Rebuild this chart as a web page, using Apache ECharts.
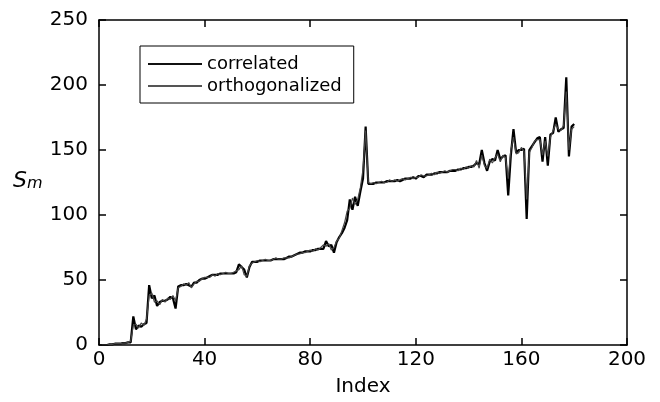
<!DOCTYPE html>
<html lang="en">
<head>
    <meta charset="UTF-8">
    <title>S_m vs Index</title>
    <script src="https://cdn.jsdelivr.net/npm/echarts@6/dist/echarts.min.js"></script>
    <style>
        html, body { margin: 0; padding: 0; background: #fff; }
    </style>
</head>
<body>
    <div id="chart" style="width: 660px; height: 402px;"></div>
    <script>
        // values, index 1..180
        var correlated = [
            0, 0, 0, 0.5, 0.5, 1, 1, 1, 1.5, 1.5,
            2, 2, 22, 12, 15, 14, 16, 17, 46, 36,
            38, 30, 33, 34, 34, 35, 37, 36, 28, 45,
            46, 46, 47, 46, 45, 48, 48, 50, 51, 51,
            52, 53, 54, 54, 54, 55, 55, 55, 55, 55,
            55, 56, 62, 60, 58, 52, 60, 64, 64, 64,
            65, 65, 65, 65, 65, 66, 66, 66, 66, 66,
            67, 68, 68, 69, 70, 71, 71, 72, 72, 72,
            73, 73, 74, 74, 74, 80, 76, 77, 71, 79,
            83, 86, 90, 96, 112, 104, 114, 107, 118, 128,
            168, 124, 124, 124, 125, 125, 125, 125, 126, 126,
            126, 126, 127, 126, 127, 128, 128, 128, 129, 128,
            130, 130, 129, 131, 131, 131, 132, 132, 133, 133,
            133, 133, 134, 134, 134, 135, 135, 136, 136, 137,
            137, 138, 140, 139, 150, 140, 134, 141, 143, 142,
            150, 143, 145, 146, 115, 146, 166, 148, 150, 150,
            151, 97, 150, 153, 156, 159, 160, 141, 160, 138,
            162, 163, 175, 164, 166, 167, 206, 145, 168, 170
        ];
        var orthogonalized = [
            0, 0, 0, 0.5, 0.5, 1, 1, 1, 1.5, 1.5,
            2, 3, 15, 16, 13, 17, 15, 20, 38, 40,
            33, 34, 31, 35, 33, 36, 35, 38, 34, 44,
            45, 47, 46, 48, 44, 47, 49, 49, 51, 52,
            52, 52, 54, 53, 55, 54, 55, 56, 55, 55,
            56, 57, 58, 61, 54, 53, 61, 63, 64, 65,
            64, 65, 66, 65, 65, 66, 67, 66, 66, 67,
            67, 67, 68, 69, 70, 70, 71, 71, 72, 73,
            72, 74, 73, 75, 77, 76, 78, 73, 75, 80,
            82, 88, 94, 103, 105, 113, 108, 112, 121, 135,
            165, 125, 124, 125, 124, 125, 126, 125, 125, 127,
            126, 127, 126, 127, 128, 127, 128, 129, 128, 129,
            129, 131, 130, 130, 131, 132, 131, 133, 132, 133,
            134, 133, 134, 135, 135, 134, 136, 135, 137, 136,
            138, 137, 142, 136, 146, 138, 136, 143, 140, 144,
            147, 141, 146, 144, 128, 150, 160, 147, 148, 152,
            149, 112, 148, 152, 157, 158, 158, 146, 157, 145,
            160, 165, 170, 166, 165, 169, 195, 150, 166, 168
        ];
        var xTicks = [0, 40, 80, 120, 160, 200];
        var yTicks = [0, 50, 100, 150, 200, 250];

        var font = 'DejaVu Sans, sans-serif';

        function pairs(values) {
            return values.map(function (v, i) { return [i + 1, v]; });
        }

        var chart = echarts.init(document.getElementById('chart'), null, { renderer: 'canvas' });

        var axisLine = { show: true, onZero: false, lineStyle: { color: '#000', width: 1.5 } };
        var axisTick = { show: true, inside: true, length: 7, lineStyle: { color: '#000', width: 1.5 } };

        var option = {
            backgroundColor: '#fff',
            animation: false,
            textStyle: { fontFamily: font },
            grid: { left: 99, right: 33, top: 20, bottom: 57, outerBoundsMode: 'none', containLabel: false },
            legend: {
                orient: 'vertical',
                left: 140,
                top: 46,
                data: [
                    { name: 'correlated', icon: 'rect', itemStyle: { color: '#111' } },
                    { name: 'orthogonalized', icon: 'rect', itemStyle: { color: '#555' } }
                ],
                borderColor: '#000',
                borderWidth: 1,
                padding: [8, 12, 7, 8],
                itemGap: 2,
                itemWidth: 54,
                itemHeight: 2,
                textStyle: { fontSize: 18, color: '#000', fontFamily: font, lineHeight: 20 }
            },
            xAxis: [{
                type: 'value',
                min: xTicks[0],
                max: xTicks[xTicks.length - 1],
                interval: 40,
                name: 'Index',
                nameLocation: 'middle',
                nameGap: 32,
                nameTextStyle: { fontSize: 20, color: '#000', fontFamily: font },
                axisLine: axisLine,
                axisTick: axisTick,
                axisLabel: { fontSize: 20, color: '#000', margin: 5, fontFamily: font },
                splitLine: { show: false }
            }, {
                type: 'value',
                position: 'top',
                min: xTicks[0],
                max: xTicks[xTicks.length - 1],
                interval: 40,
                axisLine: axisLine,
                axisTick: axisTick,
                axisLabel: { show: false },
                splitLine: { show: false }
            }],
            yAxis: [{
                type: 'value',
                min: yTicks[0],
                max: yTicks[yTicks.length - 1],
                interval: 50,
                axisLine: axisLine,
                axisTick: axisTick,
                axisLabel: { fontSize: 20, color: '#000', margin: 11, fontFamily: font },
                splitLine: { show: false }
            }, {
                type: 'value',
                position: 'right',
                min: yTicks[0],
                max: yTicks[yTicks.length - 1],
                interval: 50,
                axisLine: axisLine,
                axisTick: axisTick,
                axisLabel: { show: false },
                splitLine: { show: false }
            }],
            graphic: [{
                type: 'text',
                left: 13,
                top: 170,
                style: {
                    text: '{s|S}{m|m}',
                    rich: {
                        s: { fontSize: 22, fontStyle: 'italic', fill: '#000', fontFamily: font, verticalAlign: 'bottom' },
                        m: { fontSize: 16, fontStyle: 'italic', fill: '#000', fontFamily: font, padding: [8, 0, 0, 0] }
                    }
                }
            }],
            series: [{
                name: 'orthogonalized',
                type: 'line',
                symbol: 'none',
                data: pairs(orthogonalized),
                lineStyle: { color: '#444', width: 1.2 },
                itemStyle: { color: '#555' },
                z: 3
            }, {
                name: 'correlated',
                type: 'line',
                symbol: 'none',
                data: pairs(correlated),
                lineStyle: { color: '#000', width: 2.2 },
                itemStyle: { color: '#111' },
                z: 2
            }]
        };

        chart.setOption(option);
    </script>
</body>
</html>
